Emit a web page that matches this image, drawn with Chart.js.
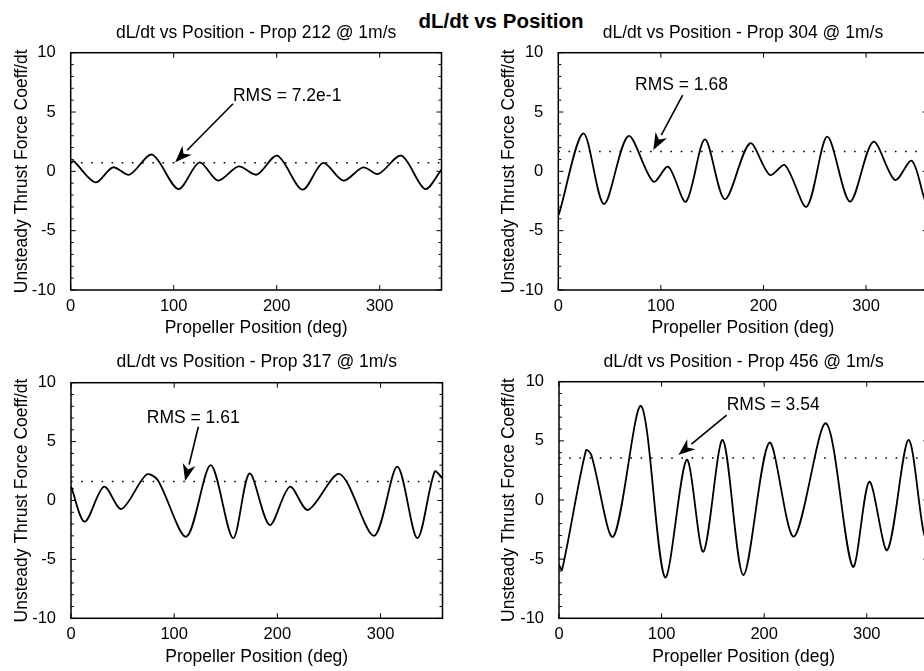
<!DOCTYPE html>
<html>
<head>
<meta charset="utf-8">
<script src="https://cdn.jsdelivr.net/npm/chart.js@4.4.1/dist/chart.umd.min.js"></script>
<style>
  html, body { margin:0; padding:0; background:#fff; width:924px; height:671px; overflow:hidden; position:relative; }
  .panel { position:absolute; }
  #suptitle { position:absolute; left:401px; top:11px; width:200px; text-align:center;
    font:bold 20.5px 'Liberation Sans', Arial, sans-serif; line-height:20px; color:#000; white-space:nowrap; }
</style>
</head>
<body>
<div id="suptitle">dL/dt vs Position</div>
<canvas class="panel" id="c212"></canvas>
<canvas class="panel" id="c304"></canvas>
<canvas class="panel" id="c317"></canvas>
<canvas class="panel" id="c456"></canvas>
<script>
// propeller position (deg) and dL/dt readings for each prop
const deg212 = [0, 3, 24, 41, 57, 79, 104.5, 125, 143, 163, 180.5, 200.6, 225, 245, 264.7, 284, 298.6, 321, 344, 360];
const val212 = [0.75, 0.85, -0.93, 0.34, -0.28, 1.41, -1.49, 0.76, -0.78, 0.42, -0.28, 1.32, -1.54, 0.71, -0.78, 0.34, -0.22, 1.32, -1.49, 0.15];

const deg304 = [0, 1, 24.4, 44.5, 68.2, 92.6, 107.2, 124.4, 142.9, 162.4, 186.8, 206.3, 220.9, 242.1, 262.2, 284.3, 307, 328.2, 344.4, 355.8, 360];
const val304 = [-3.7, -3.5, 3.2, -2.75, 2.97, -0.87, 0.39, -2.56, 2.69, -2.36, 2.36, -0.31, 0.53, -2.98, 2.92, -2.56, 2.5, -0.73, 0.9, -2.0, -3.4];

const deg317 = [0, 13.3, 32, 48.8, 73, 84, 111.8, 135.4, 157, 173, 192.5, 212, 229.7, 260.4, 293.6, 316.2, 335.6, 352.4, 360];
const val317 = [1.2, -1.8, 1.17, -0.72, 2.2, 1.74, -3.07, 3.0, -3.2, 2.3, -2.08, 1.17, -0.8, 2.25, -3.0, 2.87, -3.2, 2.45, 1.9];

const deg456 = [0, 3, 26.3, 31.5, 52.9, 80, 103.3, 124.5, 140.7, 159.6, 179.7, 205, 229, 260.3, 286.3, 302.5, 320, 340.5, 355, 360];
const val456 = [-5.5, -5.9, 4.2, 3.8, -3.1, 7.95, -6.53, 3.4, -4.37, 5.07, -6.34, 4.85, -3.1, 6.48, -5.63, 1.55, -4.23, 5.07, -2.54, -4.0];

const propNames = ['212', '304', '317', '456'];
const rmsValues = [0.72, 1.68, 1.61, 3.54];
const rmsLabels = ['RMS = 7.2e-1', 'RMS = 1.68', 'RMS = 1.61', 'RMS = 3.54'];
// label anchor [deg, value], arrow tail and head [deg, value]
const noteAt   = [[157.5, 6.37], [74.8, 7.3], [73.4, 6.98], [163.5, 8.03]];
const arrowFrom = [[157.6, 5.7], [121.2, 6.43], [123.4, 6.26], [163.4, 7.18]];
const arrowTo   = [[101.4, 0.76], [92.6, 1.79], [110.6, 1.65], [116.3, 3.8]];

const xTicks = { min: 0, max: 360, step: 100 };
const yTicks = { min: -10, max: 10, step: 1, labelEvery: 5 };

const FONT = "'Liberation Sans', Arial, sans-serif";

// page boxes for the 2x2 grid and where each plot box sits
const layout = [
  { id:'c212', left:0,   top:0,   w:462, h:345, area:{l:70.7, t:52.7,  r:441.5, b:290},   titleY:32.7,  xlabY:328.4, ylabX:21.7 },
  { id:'c304', left:480, top:0,   w:460, h:345, area:{l:558.3,t:52.7,  r:927.6, b:290},   titleY:32.7,  xlabY:328.4, ylabX:509 },
  { id:'c317', left:0,   top:335, w:462, h:336, area:{l:71,   t:382.7, r:442.5, b:618.3}, titleY:361.7, xlabY:656.7, ylabX:21.7 },
  { id:'c456', left:480, top:335, w:460, h:336, area:{l:559,  t:381.7, r:928.3, b:618.3}, titleY:361.7, xlabY:656.7, ylabX:509 }
];

const series = [[deg212, val212], [deg304, val304], [deg317, val317], [deg456, val456]];

// box around the axes with MATLAB style inward ticks
const framePlugin = {
  id: 'frame',
  afterDraw(chart) {
    const { ctx, chartArea: a, scales: { x, y } } = chart;
    ctx.save();
    ctx.strokeStyle = '#000';
    ctx.lineWidth = 1.5;
    ctx.strokeRect(a.left, a.top, a.right - a.left, a.bottom - a.top);
    ctx.lineWidth = 1;
    ctx.beginPath();
    y.ticks.forEach(t => {
      const py = y.getPixelForValue(t.value);
      const len = t.value % yTicks.labelEvery === 0 ? 5 : 3;
      ctx.moveTo(a.left, py); ctx.lineTo(a.left + len, py);
      ctx.moveTo(a.right, py); ctx.lineTo(a.right - len, py);
    });
    x.ticks.forEach(t => {
      const px = x.getPixelForValue(t.value);
      ctx.moveTo(px, a.bottom); ctx.lineTo(px, a.bottom - 5);
      ctx.moveTo(px, a.top); ctx.lineTo(px, a.top + 5);
    });
    ctx.stroke();
    ctx.restore();
  }
};

// "RMS = ..." text with an arrow pointing at the dotted line
const rmsNotePlugin = {
  id: 'rmsNote',
  afterDatasetsDraw(chart, args, opts) {
    const { ctx, scales: { x, y } } = chart;
    const tx = x.getPixelForValue(opts.at[0]), ty = y.getPixelForValue(opts.at[1]);
    const x0 = x.getPixelForValue(opts.from[0]), y0 = y.getPixelForValue(opts.from[1]);
    const x1 = x.getPixelForValue(opts.to[0]), y1 = y.getPixelForValue(opts.to[1]);
    ctx.save();
    ctx.fillStyle = '#000';
    ctx.strokeStyle = '#000';
    ctx.font = '17.5px ' + FONT;
    ctx.textAlign = 'left';
    ctx.textBaseline = 'middle';
    ctx.fillText(opts.text, tx, ty);
    const ang = Math.atan2(y1 - y0, x1 - x0);
    const hl = 17, hw = 6.5;
    const bx = x1 - hl * Math.cos(ang), by = y1 - hl * Math.sin(ang);
    ctx.lineWidth = 1.6;
    ctx.beginPath();
    ctx.moveTo(x0, y0);
    ctx.lineTo(bx, by);
    ctx.stroke();
    ctx.beginPath();
    ctx.moveTo(x1, y1);
    ctx.lineTo(bx - hw * Math.sin(ang), by + hw * Math.cos(ang));
    ctx.lineTo(x1 - 0.7 * hl * Math.cos(ang), y1 - 0.7 * hl * Math.sin(ang));
    ctx.lineTo(bx + hw * Math.sin(ang), by - hw * Math.cos(ang));
    ctx.closePath();
    ctx.fill();
    ctx.restore();
  }
};

layout.forEach((p, i) => {
  const cv = document.getElementById(p.id);
  cv.width = p.w; cv.height = p.h;
  cv.style.left = p.left + 'px';
  cv.style.top = p.top + 'px';
  const a = p.area;
  const padTop = p.titleY - p.top - 10.5;
  const xAxisBottom = p.xlabY + 10.5;
  const [xs, ys] = series[i];

  new Chart(cv, {
    type: 'line',
    data: {
      datasets: [
        {
          data: xs.map((v, k) => ({ x: v, y: ys[k] })),
          borderColor: '#000',
          borderWidth: 1.8,
          pointRadius: 0,
          tension: 0.3,
          fill: false
        },
        {
          data: [{ x: xTicks.min, y: rmsValues[i] }, { x: xTicks.max, y: rmsValues[i] }],
          borderColor: '#000',
          borderWidth: 1.5,
          borderDash: [1.6, 8.6],
          pointRadius: 0,
          fill: false
        }
      ]
    },
    options: {
      responsive: false,
      animation: false,
      events: [],
      layout: { padding: { left: 0, top: padTop, right: p.left + p.w - a.r, bottom: p.top + p.h - xAxisBottom } },
      plugins: {
        legend: { display: false },
        tooltip: { enabled: false },
        title: {
          display: true,
          fullSize: false,
          text: 'dL/dt vs Position - Prop ' + propNames[i] + ' @ 1m/s',
          color: '#000',
          font: { family: FONT, size: 17.5, weight: 'normal', lineHeight: 1.2 },
          padding: { top: 0, bottom: a.t - p.top - padTop - 21 }
        },
        rmsNote: { text: rmsLabels[i], at: noteAt[i], from: arrowFrom[i], to: arrowTo[i] }
      },
      scales: {
        x: {
          type: 'linear',
          min: xTicks.min, max: xTicks.max,
          grid: { display: false },
          border: { display: false },
          ticks: {
            stepSize: xTicks.step, includeBounds: false, autoSkip: false, maxRotation: 0,
            padding: 0, color: '#000',
            font: { family: FONT, size: 16.5, lineHeight: 1.0 },
            callback: v => String(v)
          },
          title: {
            display: true, text: 'Propeller Position (deg)', color: '#000',
            font: { family: FONT, size: 17.5, lineHeight: 1.2 },
            padding: { top: 0, bottom: 0 }
          },
          afterFit(s) { s.height = xAxisBottom - a.b; }
        },
        y: {
          min: yTicks.min, max: yTicks.max,
          grid: { display: false },
          border: { display: false },
          ticks: {
            stepSize: yTicks.step, autoSkip: false, padding: 7, color: '#000',
            font: { family: FONT, size: 16.5, lineHeight: 1.2 },
            callback: v => (v % yTicks.labelEvery === 0 ? String(v) : '')
          },
          title: {
            display: true, text: 'Unsteady Thrust Force Coeff/dt', color: '#000',
            font: { family: FONT, size: 17.5, lineHeight: 1.2 },
            padding: { top: p.ylabX - p.left - 10.5, bottom: 0 }
          },
          afterFit(s) { s.width = a.l - p.left; }
        }
      }
    },
    plugins: [framePlugin, rmsNotePlugin]
  });
});
</script>
</body>
</html>
